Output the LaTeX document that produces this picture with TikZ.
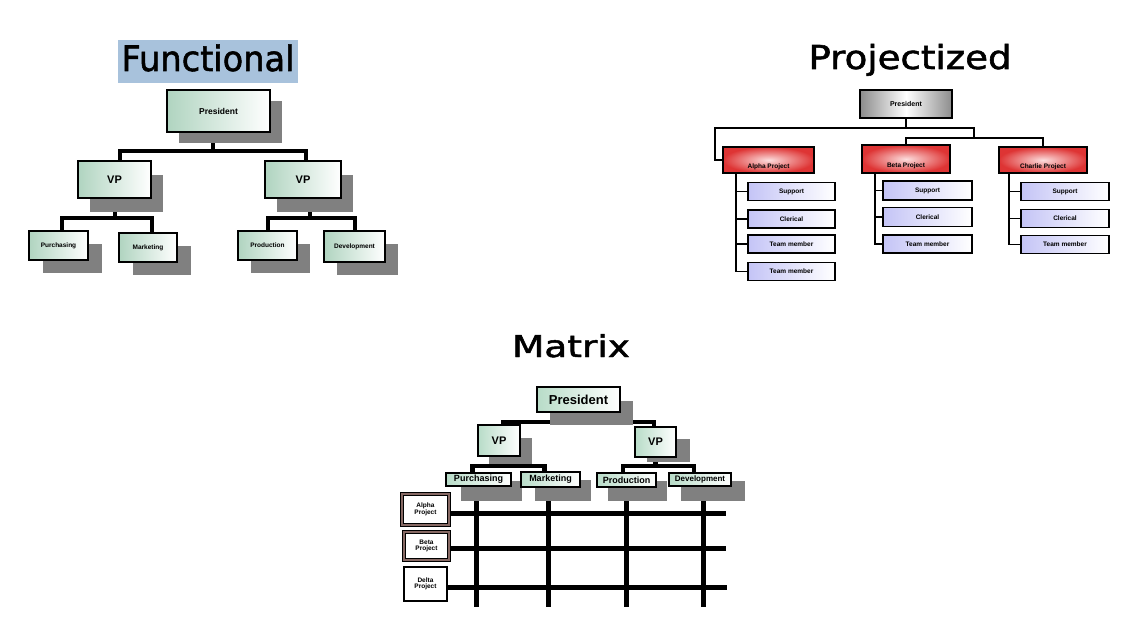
\documentclass[tikz,border=0pt]{standalone}
\usepackage{fontspec}
\setmainfont{Liberation Sans}
\newfontfamily\titlefont[FakeBold=1.6]{DejaVu Sans}
\usetikzlibrary{calc}
\pgfdeclarelayer{conn}
\pgfdeclarelayer{shad}
\pgfsetlayers{conn,shad,main}
\definecolor{fgreen}{RGB}{176,212,192}
\definecolor{mgreen}{RGB}{184,220,200}
\definecolor{shadowgray}{RGB}{128,128,128}
\definecolor{titlebg}{RGB}{168,194,220}
\definecolor{pred}{RGB}{222,52,52}
\definecolor{predlight}{RGB}{252,222,222}
\definecolor{lav}{RGB}{196,196,246}
\definecolor{pgray}{RGB}{140,140,140}
\definecolor{projbrown}{RGB}{135,105,100}
\newcommand\boxshadow[5]{\begin{pgfonlayer}{shad}\fill[shadowgray] ($(#1.north west)+(#2,#3)$) rectangle ($(#1.south east)+(#4,#5)$);\end{pgfonlayer}}
\begin{document}
\begin{tikzpicture}[x=1pt,y=-1pt,
  fs/.style={font={\fontsize{#1}{#1}\selectfont\bfseries}},
  ttl/.style={anchor=base, inner sep=0pt, font={\titlefont\fontsize{35}{35}\selectfont}},
  box/.style={draw=black, line width=1.3pt, inner sep=0pt, outer sep=0pt, align=center},
  gbox/.style={box, left color=fgreen, right color=white},
  mbox/.style={box, line width=1.2pt, left color=mgreen, right color=white},
  redbox/.style={box, shading=radial, inner color=predlight, outer color=pred},
  graybox/.style={box, left color=pgray, right color=pgray, middle color=white},
  lavbox/.style={box, left color=lav, right color=white},
  projbox/.style={box, fill=white, line width=0.8pt, double=projbrown, double distance=2.4pt},
  projboxb/.style={box, fill=white, line width=2.6pt},
  fline/.style={line width=4pt, line join=miter},
  pline/.style={line width=1.4pt, line join=miter},
  mline/.style={line width=4.5pt, line join=miter},
  gline/.style={line width=5pt}
]
\useasboundingbox (0,0) rectangle (1128,618);
\begin{pgfonlayer}{conn}
\fill[white] (0,0) rectangle (1128,618);
\end{pgfonlayer}

% ---------------- Functional ----------------
\node[fill=titlebg, inner xsep=0pt, inner ysep=6pt, text height=25pt, text depth=6pt,
      minimum width=180pt, anchor=base, font={\titlefont\fontsize{35}{35}\selectfont}]
      (ftitle) at (208,71) {\scalebox{0.96}[1.0]{Functional}};
\node[gbox, fs=8.5, minimum width=103pt, minimum height=42pt] (fpres) at (218.5,111) {President};
\node[gbox, fs=11, minimum width=73pt, minimum height=37pt] (fvp1) at (114.5,179.5) {VP};
\node[gbox, fs=11, minimum width=76pt, minimum height=37pt] (fvp2) at (303,179.5) {VP};
\node[gbox, fs=6.5, minimum width=59pt, minimum height=29pt] (fl1) at (58.5,245.5) {Purchasing};
\node[gbox, fs=6.5, minimum width=58pt, minimum height=29pt] (fl2) at (148,247.5) {Marketing};
\node[gbox, fs=6.5, minimum width=59pt, minimum height=29pt] (fl3) at (267.5,245.5) {Production};
\node[gbox, fs=6.5, minimum width=61pt, minimum height=31pt] (fl4) at (354.5,246.5) {Development};
\boxshadow{fpres}{12}{11}{12}{11}
\boxshadow{fvp1}{12}{14}{12}{14}
\boxshadow{fvp2}{12}{14}{12}{14}
\boxshadow{fl1}{14}{13}{14}{13}
\boxshadow{fl2}{14}{13}{14}{13}
\boxshadow{fl3}{13}{13}{13}{13}
\boxshadow{fl4}{13}{13}{13}{13}
\begin{pgfonlayer}{conn}
\draw[fline] ([xshift=-5.5pt]fpres.south) -- ++(0,19);
\draw[fline] ([xshift=5.5pt]fvp1.north) -- ++(0,-10) -| ([xshift=3pt]fvp2.north);
\draw[fline] (fvp1.south) -- ++(0,20);
\draw[fline] ([xshift=3.5pt]fl1.north) -- ++(0,-13) -| ([xshift=4pt]fl2.north);
\draw[fline] ([xshift=7pt]fvp2.south) -- ++(0,20);
\draw[fline] (fl3.north) -- ++(0,-13) -| (fl4.north);
\end{pgfonlayer}

% ---------------- Projectized ----------------
\node[ttl] (ptitle) at (910,69) {\scalebox{1.06}[0.94]{Projectized}};
\node[graybox, fs=7, minimum width=92pt, minimum height=28pt] (ppres) at (906,104) {President};
\node[redbox, fs=6.5, minimum width=91pt, minimum height=26pt] (pa) at (768.5,160) {\raisebox{-8pt}[0pt][0pt]{Alpha Project}};
\node[redbox, fs=6.5, minimum width=88pt, minimum height=28pt] (pb) at (906,159) {\raisebox{-8pt}[0pt][0pt]{Beta Project}};
\node[redbox, fs=6.5, minimum width=88pt, minimum height=26pt] (pc) at (1043,160) {\raisebox{-8pt}[0pt][0pt]{Charlie Project}};
\node[lavbox, fs=6.5, minimum width=87pt, minimum height=18pt] (pa1) at (791.5,191.5) {Support};
\node[lavbox, fs=6.5, minimum width=87pt, minimum height=18pt] (pa2) at (791.5,219) {Clerical};
\node[lavbox, fs=6.5, minimum width=87pt, minimum height=18pt] (pa3) at (791.5,244) {Team member};
\node[lavbox, fs=6.5, minimum width=87pt, minimum height=18pt] (pa4) at (791.5,271.5) {Team member};
\node[lavbox, fs=6.5, minimum width=89pt, minimum height=19pt] (pb1) at (927.5,190.5) {Support};
\node[lavbox, fs=6.5, minimum width=89pt, minimum height=19pt] (pb2) at (927.5,217) {Clerical};
\node[lavbox, fs=6.5, minimum width=89pt, minimum height=18pt] (pb3) at (927.5,244) {Team member};
\node[lavbox, fs=6.5, minimum width=88pt, minimum height=18pt] (pc1) at (1065,191.5) {Support};
\node[lavbox, fs=6.5, minimum width=88pt, minimum height=18pt] (pc2) at (1065,218.5) {Clerical};
\node[lavbox, fs=6.5, minimum width=88pt, minimum height=18pt] (pc3) at (1065,244.5) {Team member};
\begin{pgfonlayer}{conn}
\draw[pline] (ppres.south) -- ++(0,10);
\draw[pline] (pa.west) -- ++(-8,0) -- ++(0,-32) -- ++(259,0) -- ++(0,10);
\draw[pline] (pb.north) -- ++(0,-7) -| (pc.north);
\draw[pline] ([xshift=-32.5pt]pa.south) |- (pa4.west);
\draw[pline] (pa1.west) -- ++(-12,0);
\draw[pline] (pa2.west) -- ++(-12,0);
\draw[pline] (pa3.west) -- ++(-12,0);
\draw[pline] ([xshift=-31pt]pb.south) |- (pb3.west);
\draw[pline] (pb1.west) -- ++(-8,0);
\draw[pline] (pb2.west) -- ++(-8,0);
\draw[pline] ([xshift=-34pt]pc.south) |- (pc3.west);
\draw[pline] (pc1.west) -- ++(-12,0);
\draw[pline] (pc2.west) -- ++(-12,0);
\end{pgfonlayer}

% ---------------- Matrix ----------------
\node[ttl] (mtitle) at (571,357) {\scalebox{1.07}[0.86]{Matrix}};
\node[mbox, fs=13, minimum width=83pt, minimum height=25pt] (mpres) at (578.5,399.5) {President};
\node[mbox, fs=11, minimum width=42pt, minimum height=31pt] (mvp1) at (499,440.5) {VP};
\node[mbox, fs=11, minimum width=41pt, minimum height=30pt] (mvp2) at (655.5,442) {VP};
\node[mbox, fs=9, minimum width=65pt, minimum height=13pt] (mpur) at (478.5,479.5) {Purchasing};
\node[mbox, fs=9, minimum width=59pt, minimum height=15pt] (mmkt) at (550.5,479.5) {Marketing};
\node[mbox, fs=9, minimum width=59pt, minimum height=14pt] (mprod) at (626.5,480) {Production};
\node[mbox, fs=8, minimum width=62pt, minimum height=13pt] (mdev) at (700,479.5) {Development};
\node[projbox, fs=6.5, minimum width=47pt, minimum height=31pt] (malpha) at (425.5,509.5) {Alpha\\Project};
\node[projbox, fs=6.5, minimum width=45pt, minimum height=28pt] (mbeta) at (426.5,546) {Beta\\Project};
\node[projboxb, fs=6.5, minimum width=43pt, minimum height=34pt] (mdelta) at (425.5,584) {Delta\\Project};
\boxshadow{mpres}{13}{14}{13}{13}
\boxshadow{mvp1}{11}{13}{12}{8}
\boxshadow{mvp2}{12}{12}{14}{5}
\boxshadow{mpur}{15}{8}{11}{15}
\boxshadow{mmkt}{14}{8}{11}{14}
\boxshadow{mprod}{11}{8}{11}{14}
\boxshadow{mdev}{12}{8}{14}{15}
\begin{pgfonlayer}{conn}
\draw[mline] (mpres.south) -- ++(0,10);
\draw[mline] ([xshift=4pt]mvp1.north) -- ++(0,-3) -| ([xshift=-1.5pt]mvp2.north);
\draw[mline] (mvp1.south) -- ++(0,10);
\draw[mline] ([xshift=-6pt]mpur.north) -- ++(0,-7) -| ([xshift=-6pt]mmkt.north);
\draw[mline] (mvp2.south) -- ++(0,9);
\draw[mline] ([xshift=-3.5pt]mprod.north) -- ++(0,-7) -| ([xshift=-6pt]mdev.north);
\draw[gline] ([xshift=-2.5pt]mpur.south) -- ++(0,121);
\draw[gline] ([xshift=-2.5pt]mmkt.south) -- ++(0,120);
\draw[gline] ([xshift=-0.5pt]mprod.south) -- ++(0,120);
\draw[gline] ([xshift=3pt]mdev.south) -- ++(0,121);
\draw[gline] ([yshift=-3.5pt]malpha.east) -- ++(277,0);
\draw[gline] ([yshift=-2pt]mbeta.east) -- ++(277,0);
\draw[gline] ([yshift=-3pt]mdelta.east) -- ++(280,0);
\end{pgfonlayer}
\end{tikzpicture}
\end{document}
